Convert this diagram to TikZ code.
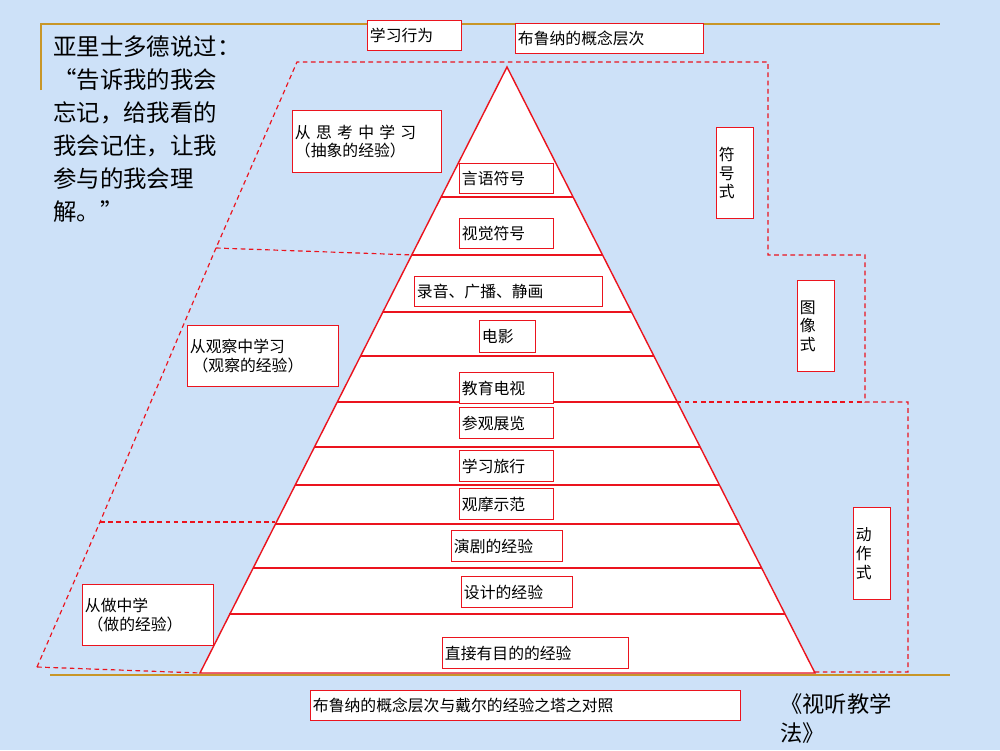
\documentclass[tikz,border=0pt]{standalone}
\usepackage{fontspec}
\newfontfamily\cjk{Noto Sans CJK SC}
\definecolor{bg}{RGB}{205,225,248}
\definecolor{gold}{RGB}{200,150,40}
\definecolor{rd}{RGB}{235,20,30}
\begin{document}
\begin{tikzpicture}[x=0.03cm,y=-0.03cm,
  bx/.style={draw=rd,fill=white,line width=1.1pt,anchor=north west,inner sep=2pt,font=\cjk\fontsize{13.5}{16}\selectfont,align=left},
  sz/.style 2 args={minimum width=#1*0.03cm,minimum height=#2*0.03cm,text width=#1*0.03cm-4pt},
  dsh/.style={draw=rd,dash pattern=on 4pt off 3pt,line width=1pt},
  rl/.style={draw=rd,line width=1.2pt}]
\fill[bg] (0,0) rectangle (1000,750);
\useasboundingbox (0,0) rectangle (1000,750);
\draw[gold,line width=1.8pt] (41,90) -- (41,24) -- (940,24);
\draw[gold,line width=1.8pt] (50,675) -- (950,675);
% dashed regions
\draw[dsh] (37,667) -- (100,522) -- (216,248) -- (297,62) -- (768,62) -- (768,255) -- (865,255) -- (865,402) -- (908,402) -- (908,672) -- (815,672);
\draw[dsh] (37,667) -- (200,673);
\draw[dsh] (216,248) -- (414,255);
\draw[dsh] (100,522) -- (275,522);
\draw[dsh] (660,402) -- (865,402);
% pyramid
\coordinate (apex) at (507,67);
\coordinate (bl) at (200,673);
\coordinate (br) at (815,673);
\fill[white] (apex) -- (bl) -- (br) -- cycle;
\draw[rl] (apex) -- (bl) -- (br) -- cycle;
\foreach \yy in {197,255,312,356,402,447,485,524,568,614}{
  \pgfmathsetmacro\hw{(\yy-67)/606*307.5}
  \draw[rl] (507-\hw,\yy) -- (507+\hw,\yy);
}
% quote
\node[anchor=north west,align=left,font=\cjk\fontsize{20}{28}\selectfont,inner sep=0pt] (quote) at (53,36)
 {亚里士多德说过：\\“告诉我的我会\\忘记，给我看的\\我会记住，让我\\参与的我会理\\解。”};
% boxes
\node[bx,sz={94}{30}] (b1) at (367,20) {学习行为};
\node[bx,sz={188}{30}] (b2) at (515,23) {布鲁纳的概念层次};
\node[bx,sz={149}{62}] (b3) at (292,110) {从\,\,思\,\,考\,\,中\,\,学\,\,习\\（抽象的经验）\\[1ex]};
\node[bx,sz={94}{30}] (p1) at (459,163) {言语符号};
\node[bx,sz={94}{30}] (p2) at (459,218) {视觉符号};
\node[bx,sz={188}{30}] (p3) at (414,276) {录音、广播、静画};
\node[bx,sz={56}{32}] (p4) at (479,320) {电影\\[0.6ex]};
\node[bx,sz={94}{31}] (p5) at (459,372) {教育电视};
\node[bx,sz={94}{31}] (p6) at (459,407) {参观展览};
\node[bx,sz={94}{31}] (p7) at (459,450) {学习旅行};
\node[bx,sz={94}{31}] (p8) at (459,488) {观摩示范};
\node[bx,sz={111}{31}] (p9) at (451,530) {演剧的经验};
\node[bx,sz={111}{31}] (p10) at (461,576) {设计的经验};
\node[bx,sz={186}{31}] (p11) at (442,637) {直接有目的的经验};
\node[bx,sz={151}{61}] (b4) at (187,325) {从观察中学习\\\,（观察的经验）\\[0.5ex]};
\node[bx,sz={131}{61}] (b5) at (82,584) {从做中学\\\,（做的经验）};
\node[bx,sz={430}{30}] (b6) at (310,690) {布鲁纳的概念层次与戴尔的经验之塔之对照};
\node[bx,sz={37}{91}] (s1) at (716,127) {符\\号\\式\\[1.5ex]};
\node[bx,sz={37}{91}] (s2) at (797,280) {图\\像\\式\\[1.5ex]};
\node[bx,sz={37}{92}] (s3) at (853,507) {动\\作\\式\\[1.5ex]};
\node[anchor=north west,align=left,font=\cjk\fontsize{19}{25}\selectfont,inner sep=0pt] (book) at (780,693) {《视听教学\\法》};
\end{tikzpicture}
\end{document}
